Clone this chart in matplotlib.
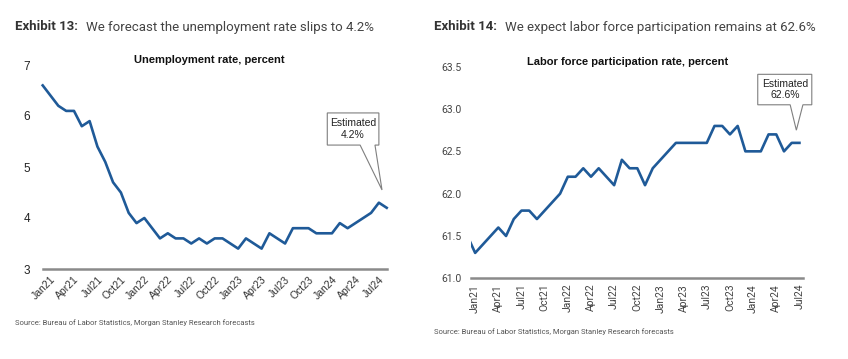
import numpy as np
import matplotlib.pyplot as plt
from matplotlib.patches import Polygon

# months from Dec20 (index -1) to Aug24 (index 43)
unemp = [6.6, 6.4, 6.2, 6.1, 6.1, 5.8, 5.9, 5.4, 5.1, 4.7, 4.5, 4.1, 3.9,
         4.0, 3.8, 3.6, 3.7, 3.6, 3.6, 3.5, 3.6, 3.5, 3.6, 3.6, 3.5,
         3.4, 3.6, 3.5, 3.4, 3.7, 3.6, 3.5, 3.8, 3.8, 3.8, 3.7, 3.7,
         3.7, 3.9, 3.8, 3.9, 4.0, 4.1, 4.3, 4.2]
# months from Dec20 (index -1) to Jul24 (index 42)
lfpr = [61.5, 61.3, 61.4, 61.5, 61.6, 61.5, 61.7, 61.8, 61.8, 61.7, 61.8, 61.9, 62.0,
        62.2, 62.2, 62.3, 62.2, 62.3, 62.2, 62.1, 62.4, 62.3, 62.3, 62.1, 62.3,
        62.4, 62.5, 62.6, 62.6, 62.6, 62.6, 62.6, 62.8, 62.8, 62.7, 62.8, 62.5,
        62.5, 62.5, 62.7, 62.7, 62.5, 62.6, 62.6]
tick_labels = ['Jan21', 'Apr21', 'Jul21', 'Oct21', 'Jan22', 'Apr22', 'Jul22', 'Oct22',
               'Jan23', 'Apr23', 'Jul23', 'Oct23', 'Jan24', 'Apr24', 'Jul24']
unemp_ticks = [3, 4, 5, 6, 7]
lfpr_ticks = [61.0, 61.5, 62.0, 62.5, 63.0, 63.5]

BLUE = '#1f5a98'
AXIS_GRAY = '#8a8a8a'
NARROW = 'Liberation Sans'

fig = plt.figure(figsize=(8.48, 3.59), dpi=100)
W, H = 848, 359


def fx(px):
    return px / W


def fy(py):
    return 1 - py / H


def callout(ax, box, base, tip, lines, font):
    L, R, B, T = box
    pts = [(L, T), (R, T), (R, B), (base[1], B), tip, (base[0], B), (L, B)]
    ax.add_patch(Polygon(pts, closed=True, facecolor='white', edgecolor='#7f7f7f',
                         linewidth=0.8, clip_on=False, zorder=5))
    ax.text((L + R) / 2, (B + T) / 2, lines, ha='center', va='center',
            fontsize=7.5, family=font, color='#222222', linespacing=1.2,
            zorder=6, clip_on=False)


# ---------------- Exhibit 13 ----------------
fig.text(fx(15), fy(27), 'Exhibit 13:', fontsize=9.5, fontweight='bold',
         family='Roboto', color='#333333', va='center')
fig.text(fx(86), fy(27), 'We forecast the unemployment rate slips to 4.2%',
         fontsize=9.5, family='Roboto', color='#444444', va='center')

ax1 = fig.add_axes([fx(42.7), fy(269), fx(386.7 - 42.7), (269 - 65) / H])
x1 = np.arange(-1, len(unemp) - 1)
ax1.plot(x1, unemp, color=BLUE, lw=1.9, solid_joinstyle='round', clip_on=False)
ax1.set_xlim(-1, len(unemp) - 2)
ax1.set_ylim(3, 7)
ax1.set_yticks(unemp_ticks)
ax1.set_yticklabels([str(v) for v in unemp_ticks], family=NARROW, fontsize=8.5,
                    color='#222222')
ax1.set_xticks(np.arange(0, 43, 3))
ax1.set_xticklabels(tick_labels, rotation=45, ha='right', va='top',
                    rotation_mode='anchor', family=NARROW, fontsize=7.5, color='#333333')
ax1.tick_params(length=0, axis='y', pad=9)
ax1.tick_params(length=0, axis='x', pad=4)
for s in ['top', 'right', 'left']:
    ax1.spines[s].set_visible(False)
ax1.spines['bottom'].set_color(AXIS_GRAY)
ax1.spines['bottom'].set_linewidth(1.8)
ax1.set_title('Unemployment rate, percent', family=NARROW, fontweight='bold',
              fontsize=8, color='#111111', pad=-1, x=0.485)
callout(ax1, (35.4, 42.0, 5.43, 6.06), (39.6, 41.5), (42.4, 4.55),
        'Estimated\n4.2%', NARROW)
fig.text(fx(15), fy(323), 'Source: Bureau of Labor Statistics, Morgan Stanley Research forecasts',
         fontsize=5.5, family='Roboto', color='#555555', va='center')

# ---------------- Exhibit 14 ----------------
fig.text(fx(434), fy(27), 'Exhibit 14:', fontsize=9.5, fontweight='bold',
         family='Roboto', color='#333333', va='center')
fig.text(fx(505), fy(27), 'We expect labor force participation remains at 62.6%',
         fontsize=9.5, family='Roboto', color='#444444', va='center')

ax2 = fig.add_axes([fx(471.3), fy(278.3), fx(803.3 - 471.3), (278.3 - 66.7) / H])
x2 = np.arange(-1, len(lfpr) - 1)
ax2.plot(x2, lfpr, color=BLUE, lw=1.9, solid_joinstyle='round')
ax2.set_xlim(-0.5, len(lfpr) - 1.5)
ax2.set_ylim(61.0, 63.5)
ax2.set_yticks(lfpr_ticks)
ax2.set_yticklabels(['%.1f' % v for v in lfpr_ticks], family='Roboto', fontsize=7.5,
                    color='#444444')
ax2.set_xticks(np.arange(0, 43, 3))
ax2.set_xticklabels(tick_labels, rotation=90, ha='center', va='top',
                    family='Roboto', fontsize=7.5, color='#444444')
ax2.tick_params(length=0, axis='y', pad=7)
ax2.tick_params(length=0, axis='x', pad=4)
for s in ['top', 'right', 'left']:
    ax2.spines[s].set_visible(False)
ax2.spines['bottom'].set_color(AXIS_GRAY)
ax2.spines['bottom'].set_linewidth(1.8)
ax2.set_title('Labor force participation rate, percent', family=NARROW,
              fontweight='bold', fontsize=8, color='#111111', pad=0, x=0.47)
callout(ax2, (36.6, 43.6, 63.05, 63.41), (40.8, 42.45), (41.6, 62.75),
        'Estimated\n62.6%', NARROW)
fig.text(fx(434), fy(332), 'Source: Bureau of Labor Statistics, Morgan Stanley Research forecasts',
         fontsize=5.5, family='Roboto', color='#555555', va='center')

fig.savefig('out.png', dpi=100)
